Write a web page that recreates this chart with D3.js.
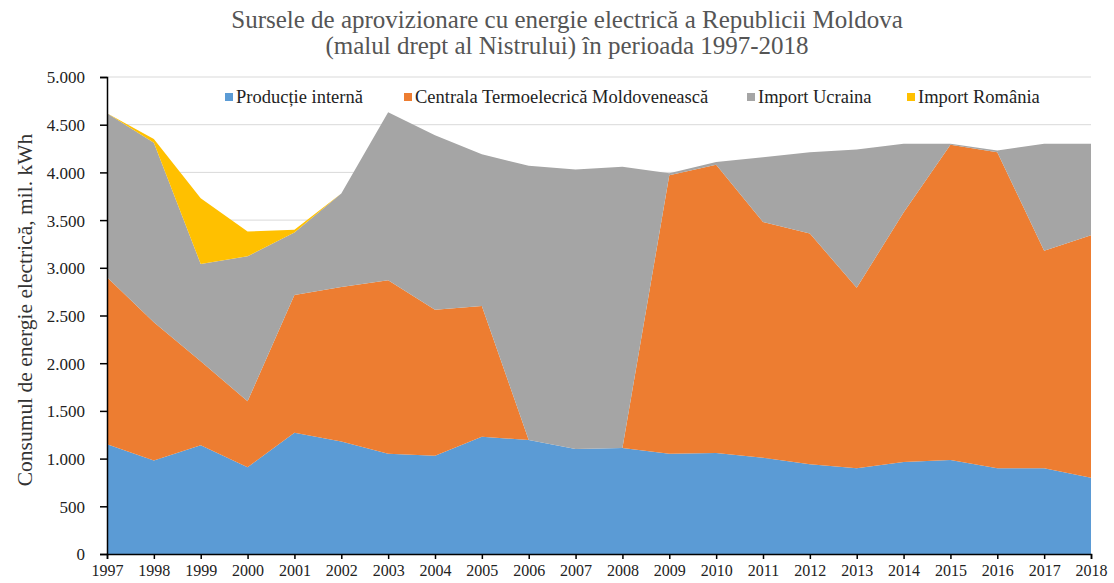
<!DOCTYPE html>
<html><head><meta charset="utf-8">
<script src="https://cdn.jsdelivr.net/npm/d3@7/dist/d3.min.js"></script>
<style>body{margin:0;background:#fff;} text{font-family:"Liberation Serif","Times New Roman",serif;}</style>
</head><body>
<svg id="chart" width="1114" height="583"></svg>
<script>
const years = [1997,1998,1999,2000,2001,2002,2003,2004,2005,2006,2007,2008,2009,2010,2011,2012,2013,2014,2015,2016,2017,2018];
const productie = [1150,980,1140,910,1270,1180,1050,1030,1230,1195,1100,1110,1050,1060,1010,940,900,965,985,900,900,800];
const ctm = [1750,1450,880,690,1445,1620,1820,1530,1370,0,0,0,2920,3020,2470,2420,1890,2615,3305,3310,2280,2540];
const ucraina = [1720,1880,1020,1520,655,980,1760,1830,1590,2875,2930,2950,20,30,680,850,1450,720,10,20,1120,960];
const romania = [0,40,690,260,30,0,0,0,0,0,0,0,0,0,0,0,0,0,0,0,0,0];
const seriesNames = ["Producție internă","Centrala Termoelecrică Moldovenească","Import Ucraina","Import România"];
const colors = ["#5B9BD5","#ED7D31","#A5A5A5","#FFC000"];
const yTicks = [0,500,1000,1500,2000,2500,3000,3500,4000,4500,5000];

const rows = years.map((y,i)=>({year:y, s0:productie[i], s1:ctm[i], s2:ucraina[i], s3:romania[i]}));
const keys = ["s0","s1","s2","s3"];
const stacked = d3.stack().keys(keys)(rows);

const svg = d3.select("#chart");
const L=107, R=1091, T=77, B=554;
const x = d3.scaleLinear().domain([1997,2018]).range([L,R]);
const y = d3.scaleLinear().domain([0,5000]).range([B,T]);
const serif = "'Liberation Serif','Times New Roman',serif";

// gridlines
svg.append("g").selectAll("line").data(yTicks.filter(d=>d>0)).join("line")
  .attr("x1",L).attr("x2",R).attr("y1",d=>y(d)).attr("y2",d=>y(d))
  .attr("stroke","#d9d9d9").attr("stroke-width",1);

const area = d3.area().x(d=>x(d.data.year)).y0(d=>y(d[0])).y1(d=>y(d[1]));
svg.append("g").selectAll("path").data(stacked).join("path")
  .attr("d",area).attr("fill",(d,i)=>colors[i]);

// axes
const fmt = d=> d===0? "0" : d3.format(",")(d).replace(/,/g,".");
const yAxis = d3.axisLeft(y).tickValues(yTicks).tickFormat(fmt).tickSize(7).tickPadding(15);
const gy = svg.append("g").attr("transform",`translate(${L},0)`).call(yAxis);
gy.attr("font-family",serif);
gy.select(".domain").attr("stroke","#000").attr("stroke-width",1.5);
gy.selectAll(".tick line").attr("stroke","#000").attr("stroke-width",1.5);
gy.selectAll("text").attr("font-size",17).attr("fill","#222").attr("dy","0.35em");

const xAxis = d3.axisBottom(x).tickValues(years).tickFormat(d=>String(d)).tickSize(5).tickPadding(6);
const gx = svg.append("g").attr("transform",`translate(0,${B})`).call(xAxis);
gx.attr("font-family",serif);
gx.select(".domain").attr("stroke","#000").attr("stroke-width",1.5);
gx.selectAll(".tick line").attr("stroke","#000").attr("stroke-width",1.5);
gx.selectAll("text").attr("font-size",16).attr("fill","#222");

// title
const title = svg.append("text").attr("text-anchor","middle").attr("fill","#555").attr("font-size",25);
title.append("tspan").attr("x",567).attr("y",28).text("Sursele de aprovizionare cu energie electrică a Republicii Moldova");
title.append("tspan").attr("x",567).attr("y",54).text("(malul drept al Nistrului) în perioada 1997-2018");

// y label
svg.append("text").attr("transform","translate(32,310) rotate(-90)").attr("text-anchor","middle")
  .attr("font-size",21.5).attr("fill","#333").text("Consumul de energie electrică, mil. kWh");

// legend
const legX = [225,404,747,907];
const lg = svg.append("g").selectAll("g").data(seriesNames).join("g")
  .attr("transform",(d,i)=>`translate(${legX[i]},97)`);
lg.append("rect").attr("x",0).attr("y",-4).attr("width",8).attr("height",8).attr("fill",(d,i)=>colors[i]);
lg.append("text").attr("x",11).attr("y",6).attr("font-size",18.5).attr("fill","#222").text(d=>d);
</script>
</body></html>
